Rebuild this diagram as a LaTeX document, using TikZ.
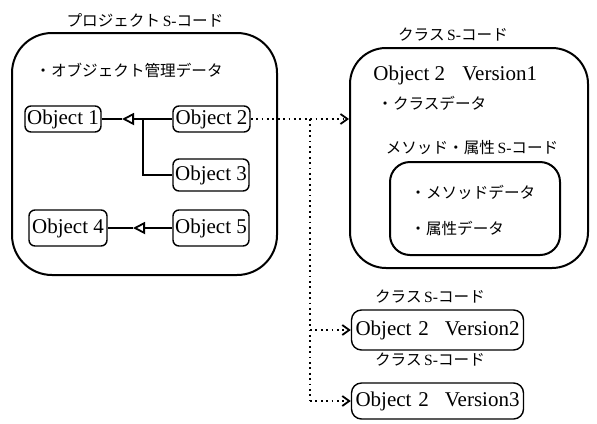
\documentclass[tikz,border=0pt]{standalone}
\usepackage{fontspec}
\setmainfont{Liberation Serif}
\newfontfamily\jpfont{Noto Sans CJK JP}
\usetikzlibrary{arrows.meta}

\begin{document}
\begin{tikzpicture}[x=0.5pt,y=-0.5pt,>={Straight Barb[length=3.5pt,width=5pt,line width=0.9pt]},
  objbox/.style={draw,rounded corners=3pt,line width=0.7pt,inner sep=1pt,font=\fontsize{10.5}{12}\selectfont},
  codebox/.style={draw,line width=1pt,inner sep=0pt},
  jptext/.style={font=\jpfont\fontsize{7.8}{9}\selectfont,inner sep=1pt},
  ltext/.style={font=\fontsize{10.5}{12}\selectfont,inner sep=1pt},
  inherit/.style={line width=0.6pt,-{Triangle[open,length=6pt,width=6pt,line width=0.9pt]}},
  link/.style={line width=0.8pt,dash pattern=on 0.9pt off 1.8pt}]
\useasboundingbox (0,0) rectangle (597,423);

% project S-code with its objects
\node[jptext] (prjtitle) at (145,20) {プロジェクト\,{\rmfamily S-}コード};
\node[codebox,rounded corners=20pt,minimum width=132.5pt,minimum height=121pt] (prj) at (144.5,154) {};
\node[jptext,anchor=west] (prjdata) at (33,70) {・オブジェクト管理データ};
\node[objbox,minimum width=38pt,minimum height=13pt] (o1) at (63,119) {Object 1};
\node[objbox,minimum width=38.5pt,minimum height=13pt] (o2) at (211.5,119) {Object 2};
\node[objbox,minimum width=38pt,minimum height=16pt] (o3) at (211,175) {Object 3};
\node[objbox,minimum width=39pt,minimum height=18pt] (o4) at (68,228) {Object 4};
\node[objbox,minimum width=38pt,minimum height=18pt] (o5) at (211,228) {Object 5};

\coordinate (tip1) at (122,119);
\coordinate (join1) at (143,119);
\coordinate (tip2) at (133,228);
\draw[line width=0.6pt] (tip1) -- (o1.east);
\draw[inherit] (o2.west) -- (tip1);
\draw[line width=0.6pt] (join1) |- (o3.west);
\draw[line width=0.6pt] (tip2) -- (o4.east);
\draw[inherit] (o5.west) -- (tip2);

% class S-code, version 1
\node[jptext] (clstitle) at (453,35) {クラス\,{\rmfamily S-}コード};
\node[codebox,rounded corners=18pt,minimum width=119pt,minimum height=110pt] (cls) at (469,158) {};
\node[ltext,anchor=west] (clsname) at (371,75) {Object 2\hspace{6pt} Version1};
\node[jptext,anchor=west] (clsdata) at (375,103) {・クラスデータ};
\node[jptext] (mtitle) at (472,148) {メソッド・属性\,{\rmfamily S-}コード};
\node[codebox,rounded corners=10pt,minimum width=85pt,minimum height=46.5pt] (mcode) at (475,208.5) {};
\node[jptext,anchor=west] (mdata) at (408,192) {・メソッドデータ};
\node[jptext,anchor=west] (adata) at (408,228) {・属性データ};

% class S-code, versions 2 and 3
\node[jptext] (v2title) at (430,297) {クラス\,{\rmfamily S-}コード};
\node[objbox,rounded corners=5pt,text width=82pt,inner xsep=2pt,minimum height=20pt] (v2) at (437.5,330) {Object 2\hfill Version2};
\node[jptext] (v3title) at (430,360) {クラス\,{\rmfamily S-}コード};
\node[objbox,rounded corners=5pt,text width=82pt,inner xsep=2pt,minimum height=18pt] (v3) at (437.5,401) {Object 2\hfill Version3};

% version links
\coordinate (fork) at (310,119);
\draw[link,->] (o2.east) -- (o2.east -| cls.west);
\draw[link] (fork) -- (fork |- v3.west);
\draw[link,->] (fork |- v2.west) -- (v2.west);
\draw[link,->] (fork |- v3.west) -- (v3.west);
\end{tikzpicture}
\end{document}
